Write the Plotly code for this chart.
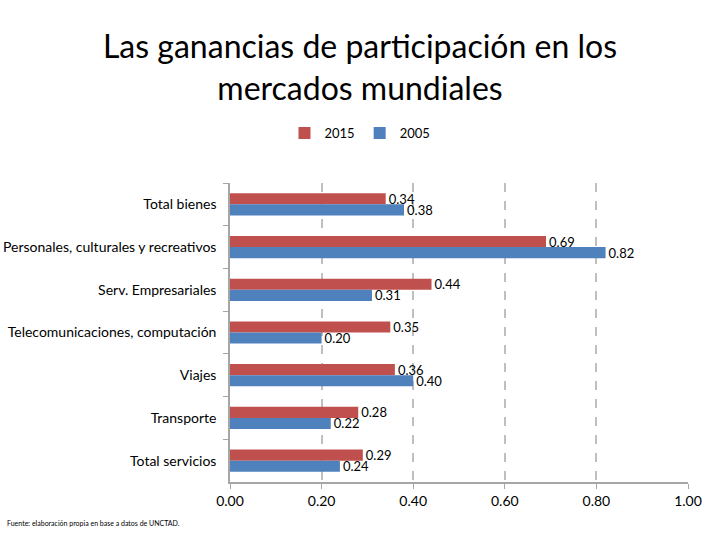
import plotly.graph_objects as go

categories = ["Total bienes", "Personales, culturales y recreativos", "Serv. Empresariales",
              "Telecomunicaciones, computación", "Viajes", "Transporte", "Total servicios"]
values_2015 = [0.34, 0.69, 0.44, 0.35, 0.36, 0.28, 0.29]
values_2005 = [0.38, 0.82, 0.31, 0.20, 0.40, 0.22, 0.24]
x_ticks = [0.0, 0.2, 0.4, 0.6, 0.8, 1.0]
x_tick_labels = ["0.00", "0.20", "0.40", "0.60", "0.80", "1.00"]

FONT = "Lato"

fig = go.Figure()
fig.add_trace(go.Bar(
    y=categories, x=values_2015, orientation="h", name="2015",
    marker=dict(color="#C0504D", line=dict(width=0)),
    text=[f"{v:.2f}" for v in values_2015], textposition="outside",
    constraintext="none",
    textfont=dict(family=FONT, size=13, color="#000000"), cliponaxis=False,
))
fig.add_trace(go.Bar(
    y=categories, x=values_2005, orientation="h", name="2005",
    marker=dict(color="#4F81BD", line=dict(width=0)),
    text=[f"{v:.2f}" for v in values_2005], textposition="outside",
    constraintext="none",
    textfont=dict(family=FONT, size=13, color="#000000"), cliponaxis=False,
))

fig.update_layout(
    width=720, height=540,
    paper_bgcolor="white", plot_bgcolor="white",
    margin=dict(l=230, r=32, t=183, b=58, autoexpand=False),
    barmode="group", bargap=0.48, bargroupgap=0,
    font=dict(family=FONT, size=13, color="#000000"),
    title=dict(text="Las ganancias de participación en los<br>mercados mundiales",
               x=0.5, xanchor="center", xref="container", y=1 - 58 / 540, yref="container", yanchor="middle",
               font=dict(family=FONT, size=32, color="#000000")),
    legend=dict(orientation="h", x=0.5, xanchor="center", xref="container",
                y=1 - 133 / 540, yref="container",
                yanchor="middle", traceorder="normal",
                font=dict(family=FONT, size=13), itemwidth=30),
    showlegend=True,
)
fig.update_xaxes(
    range=[0, 1.0], tickvals=x_ticks, ticktext=x_tick_labels,
    showgrid=True, gridcolor="#BFBFBF", griddash="dash", gridwidth=1.5,
    showline=True, linecolor="#A6A6A6", linewidth=1.5,
    ticks="outside", ticklen=5, tickcolor="#A6A6A6",
    zeroline=False, tickfont=dict(family=FONT, size=14), automargin=False,
)
fig.update_yaxes(
    autorange="reversed", showgrid=False,
    showline=True, linecolor="#A6A6A6", linewidth=1.5,
    ticks="outside", ticklen=5, tickcolor="#A6A6A6", tickson="boundaries",
    ticklabelstandoff=9, tickfont=dict(family=FONT, size=14), automargin=False,
)
fig.add_annotation(
    text="Fuente: elaboración propia en base a datos de UNCTAD.",
    xref="paper", yref="paper", x=-225/458, y=-41/299, xanchor="left", yanchor="middle",
    showarrow=False, font=dict(family=FONT, size=7, color="#000000"),
)

fig.write_html("out.html", post_script="document.body.style.margin='0';",
               config={"displayModeBar": False})
